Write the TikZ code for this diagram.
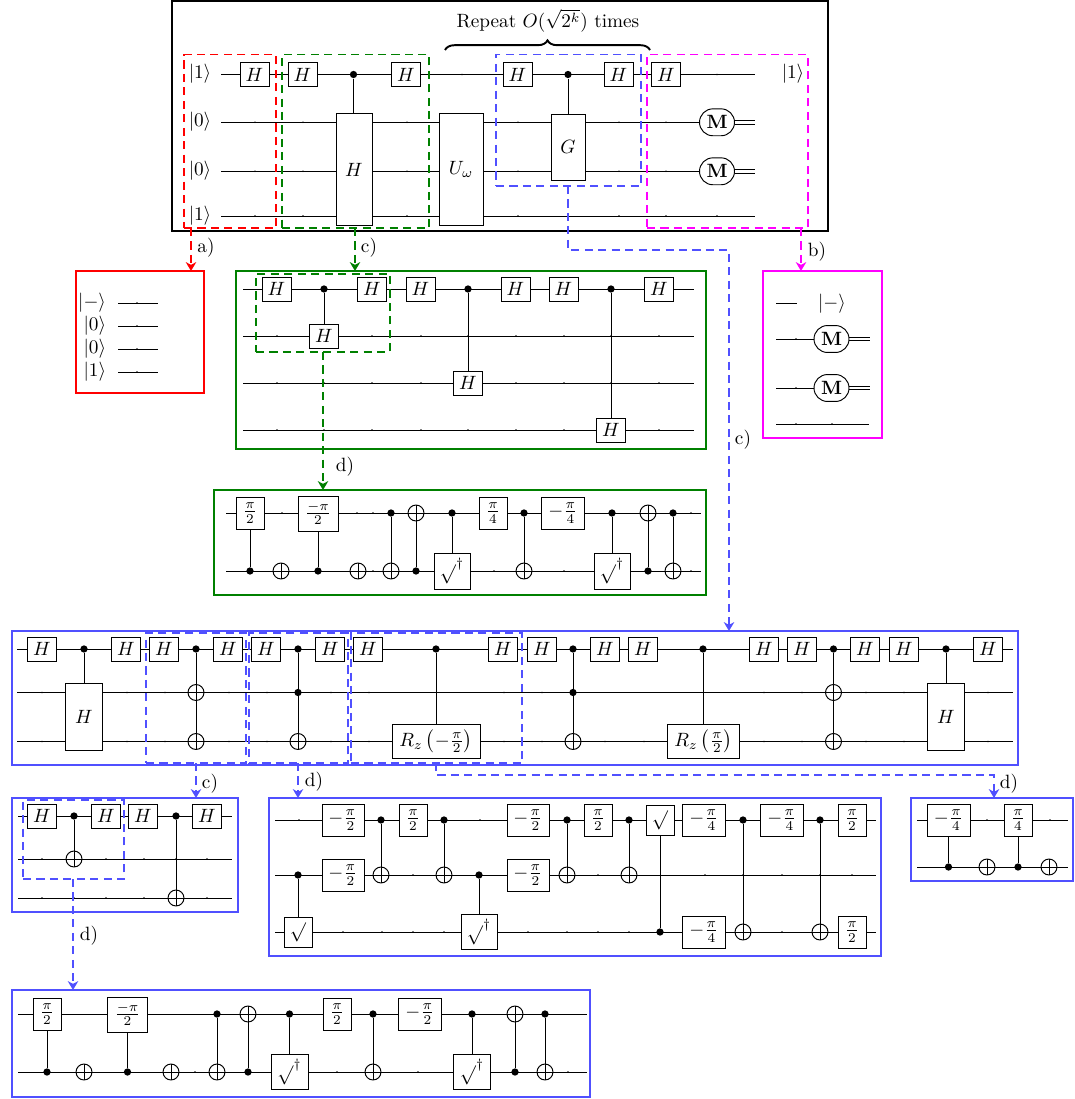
\documentclass[tikz,border=0pt]{standalone}
\usetikzlibrary{arrows.meta,decorations.pathreplacing}
\def\ux{0.52pt}
\definecolor{qblue}{RGB}{80,80,255}
\definecolor{qgreen}{RGB}{0,128,0}
\definecolor{qmag}{RGB}{255,0,255}
\tikzset{
  x=0.52pt,y=-0.52pt,
  wireline/.style={line width=0.5pt,black},
  vline/.style={line width=0.5pt,black},
  gatebox/.style={draw,fill=white,line width=0.5pt,inner sep=0pt,outer sep=0pt,rectangle},
  ctrlpt/.style={circle,fill=black,draw=none,inner sep=0pt,minimum size=3.8pt},
  xorpt/.style={circle,draw,line width=0.5pt,inner sep=0pt,minimum size=8.3pt,
    path picture={\draw[line width=0.5pt] (path picture bounding box.north)--(path picture bounding box.south);
                  \draw[line width=0.5pt] (path picture bounding box.west)--(path picture bounding box.east);}},
  measbox/.style={draw,fill=white,line width=0.5pt,rounded corners=7pt,inner sep=0pt,minimum width=18.2pt,minimum height=14pt},
  framebox/.style={draw,inner sep=0pt,outer sep=0pt,line width=1.05pt},
  dashbox/.style={draw,inner sep=0pt,outer sep=0pt,line width=1pt,dash pattern=on 4.2pt off 2.8pt},
  dasharrow/.style={line width=1pt,dash pattern=on 4.2pt off 2.8pt,-{Stealth[length=4.6pt,width=5.4pt,inset=1.4pt]}},
  lab/.style={inner sep=0pt,outer sep=0pt}
}
\newcommand{\wire}[4]{\coordinate (#1a) at (#2,#4); \coordinate (#1b) at (#3,#4); \draw[wireline] (#1a)--(#1b);}
\newcommand{\ticks}[2]{\foreach \t in {#2} \fill (\t,#1) circle[radius=0.85];}
\newcommand{\gbox}[6]{\node[gatebox,minimum width=#4*\ux,minimum height=#5*\ux] (#1) at (#2,#3) {#6};}
\newcommand{\hgate}[3]{\gbox{#1}{#2}{#3}{29}{24}{$H$}}
\newcommand{\ctrl}[3]{\node[ctrlpt] (#1) at (#2,#3) {};}
\newcommand{\xorg}[3]{\node[xorpt] (#1) at (#2,#3) {};}
\newcommand{\vl}[2]{\draw[vline] (#1)--(#2);}
\newcommand{\rframe}[6]{\node[#6,minimum width={(#4-#2)*\ux},minimum height={(#5-#3)*\ux}] (#1) at ({(#2+#4)/2},{(#3+#5)/2}) {};}
\newcommand{\darrow}[4]{\coordinate (ax#2#3) at (#4,0); \draw[dasharrow,#1] (#2.south -| ax#2#3) -- (#3.north -| ax#2#3);}
\newcommand{\lbl}[4]{\node[lab] (#1) at (#2,#3) {#4};}
\newcommand{\meas}[3]{\node[measbox] (#1) at (#2,#3) {$\mathbf{M}$};
  \coordinate (#1e) at ({#2+38},#3);
  \draw[wireline] ([yshift=1pt]#1.east) -- ([yshift=1pt]#1e);
  \draw[wireline] ([yshift=-1pt]#1.east) -- ([yshift=-1pt]#1e);}
\newcommand{\fr}[2]{$\frac{#1}{#2}$}
\newcommand{\mfr}[2]{$-\frac{#1}{#2}$}
\newcommand{\sq}{$\sqrt{}$}
\newcommand{\sqd}{${\sqrt{}}^{\dagger}$}
\begin{document}
\begin{tikzpicture}
\useasboundingbox (0,0) rectangle (1074,1099);
% ---------- main circuit
\wire{mw0}{221}{755}{74.5}
\wire{mw1}{221}{699}{122.3}
\wire{mw2}{221}{699}{171.3}
\wire{mw3}{221}{755}{216}
\ticks{74.5}{462,717}
\ticks{122.3}{255,303,407,518,619,666}
\ticks{171.3}{255,303,407,518,619,666}
\ticks{216}{255,303,407,518,619,666,717}
\lbl{k0}{200}{74}{$|1\rangle$}
\lbl{k1}{200}{122}{$|0\rangle$}
\lbl{k2}{200}{171}{$|0\rangle$}
\lbl{k3}{200}{216}{$|1\rangle$}
\lbl{k4}{793}{74}{$|1\rangle$}
\hgate{m1}{254.5}{74.5}
\hgate{m2}{302.5}{74.5}
\ctrl{mc1}{353.5}{74.5}
\gbox{mH}{354}{169.5}{36}{112}{$H$}
\draw[vline] (mc1)--(mH.north -| mc1);
\hgate{m3}{406}{74.5}
\gbox{mU}{461}{169.5}{44}{112}{$U_\omega$}
\hgate{m4}{517.5}{74.5}
\ctrl{mc2}{568}{74.5}
\gbox{mG}{568}{147}{34}{66}{$G$}
\vl{mc2}{mG}
\hgate{m5}{618.5}{74.5}
\hgate{m6}{666}{74.5}
\meas{mm1}{717}{122.3}
\meas{mm2}{717}{171.3}
\lbl{rep}{548}{21}{Repeat $O(\sqrt{2^k})$ times}
\coordinate (brL) at (445,50);
\coordinate (brR) at (650,50);
\draw[line width=1pt,decorate,decoration={brace,amplitude=5pt}] (brL)--(brR);
% ---------- red panel
\wire{rw0}{118}{158}{303}
\wire{rw1}{118}{158}{326}
\wire{rw2}{118}{158}{349}
\wire{rw3}{118}{158}{372}
\ticks{303}{137}\ticks{326}{137}\ticks{349}{137}\ticks{372}{137}
\node[lab,anchor=east] (r0) at (106,303) {$|{-}\rangle$};
\node[lab,anchor=east] (r1) at (106,326) {$|0\rangle$};
\node[lab,anchor=east] (r2) at (106,349) {$|0\rangle$};
\node[lab,anchor=east] (r3) at (106,372) {$|1\rangle$};
% ---------- magenta panel
\wire{pw0}{776}{797}{303}
\wire{pw1}{776}{814}{339}
\wire{pw2}{776}{814}{388}
\wire{pw3}{776}{869}{424}
\ticks{339}{796}\ticks{388}{796}\ticks{424}{796,832}
\lbl{p0}{832}{304}{$|{-}\rangle$}
\meas{pm1}{831.5}{339}
\meas{pm2}{831.5}{388}
% ---------- green panel 1
\wire{gw0}{243}{694}{289}
\wire{gw1}{243}{694}{336}
\wire{gw2}{243}{694}{383}
\wire{gw3}{243}{694}{430}
\ticks{336}{277,372,421,468,516,564,611,659}
\ticks{383}{277,324,372,421,516,564,611,659}
\ticks{430}{277,324,372,421,468,516,564,659}
\hgate{g1}{276.5}{289}
\ctrl{gc1}{324}{289}
\hgate{g2}{324}{336}
\vl{gc1}{g2}
\hgate{g3}{372}{289}
\hgate{g4}{420.5}{289}
\ctrl{gc2}{468}{289}
\hgate{g5}{468}{383}
\vl{gc2}{g5}
\hgate{g6}{515.5}{289}
\hgate{g7}{563.5}{289}
\ctrl{gc3}{611}{289}
\hgate{g8}{611}{430}
\vl{gc3}{g8}
\hgate{g9}{659}{289}
% ---------- green panel 2
\wire{tw0}{226}{701}{513}
\wire{tw1}{226}{701}{571}
\ticks{513}{282,357,373,691}
\ticks{571}{373,494,564,691}
\gbox{t1}{250}{513}{28}{32}{\fr{\pi}{2}}
\ctrl{tc1}{250}{571}
\vl{t1}{tc1}
\xorg{tx1}{281}{571}
\gbox{t2}{318}{513.5}{40}{35}{\fr{-\pi}{2}}
\ctrl{tc2}{318}{571}
\vl{t2}{tc2}
\xorg{tx2}{358}{571}
\ctrl{tc3}{391}{513}
\xorg{tx3}{391}{571}
\vl{tc3}{tx3}
\xorg{tx4}{416}{513}
\ctrl{tc4}{416}{571}
\vl{tx4}{tc4}
\ctrl{tc5}{452}{513}
\gbox{t3}{452}{571}{36}{36}{\sqd}
\vl{tc5}{t3}
\gbox{t4}{493}{513}{28}{32}{\fr{\pi}{4}}
\ctrl{tc6}{524}{513}
\xorg{tx5}{524}{571}
\vl{tc6}{tx5}
\gbox{t5}{563}{513}{43}{32}{\mfr{\pi}{4}}
\ctrl{tc7}{612}{513}
\gbox{t6}{612}{571}{36}{36}{\sqd}
\vl{tc7}{t6}
\xorg{tx6}{648}{513}
\ctrl{tc8}{648}{571}
\vl{tx6}{tc8}
\ctrl{tc9}{673}{513}
\xorg{tx7}{673}{571}
\vl{tc9}{tx7}
% ---------- big blue panel
\wire{bw0}{17}{1013}{649}
\wire{bw1}{17}{1013}{692.5}
\wire{bw2}{17}{1013}{741.5}
\ticks{692.5}{42,127,165,229,267,331,369,504,542,764,802,866,904,988}
\ticks{741.5}{42,127,165,229,267,331,369,504,542,605,644,764,802,866,904,988}
\hgate{b1}{42}{649}
\ctrl{bc1}{84}{649}
\gbox{bH1}{84}{717}{37}{67}{$H$}
\vl{bc1}{bH1}
\hgate{b2}{126}{649}
\hgate{b3}{164}{649}
\ctrl{bc2}{196}{649}
\xorg{bx1}{196}{692.5}
\xorg{bx2}{196}{741.5}
\vl{bc2}{bx2}
\hgate{b4}{228}{649}
\hgate{b5}{266}{649}
\ctrl{bc3}{298}{649}
\ctrl{bc4}{298}{692.5}
\xorg{bx3}{298}{741.5}
\vl{bc3}{bx3}
\hgate{b6}{330}{649}
\hgate{b7}{368}{649}
\ctrl{bc5}{436}{649}
\gbox{bR1}{436}{741.5}{88}{34}{$R_z\left(-\frac{\pi}{2}\right)$}
\vl{bc5}{bR1}
\hgate{b8}{503}{649}
\hgate{b9}{542}{649}
\ctrl{bc6}{573}{649}
\ctrl{bc7}{573}{692.5}
\xorg{bx4}{573}{741.5}
\vl{bc6}{bx4}
\hgate{b10}{605}{649}
\hgate{b11}{643}{649}
\ctrl{bc8}{703}{649}
\gbox{bR2}{703.5}{741.5}{72}{34}{$R_z\left(\frac{\pi}{2}\right)$}
\draw[vline] (bc8)--(bR2.north -| bc8);
\hgate{b12}{764}{649}
\hgate{b13}{802}{649}
\ctrl{bc9}{833.5}{649}
\xorg{bx5}{833.5}{692.5}
\xorg{bx6}{833.5}{741.5}
\vl{bc9}{bx6}
\hgate{b14}{865}{649}
\hgate{b15}{904}{649}
\ctrl{bc10}{946}{649}
\gbox{bH2}{946}{717}{37}{67}{$H$}
\vl{bc10}{bH2}
\hgate{b16}{988}{649}
% ---------- small left blue panel
\wire{lw0}{18}{232}{816}
\wire{lw1}{18}{232}{859}
\wire{lw2}{18}{232}{898}
\ticks{859}{42,106,144,176,207}
\ticks{898}{42,74,106,144,207}
\hgate{l1}{42}{816}
\ctrl{lc1}{74}{816}
\xorg{lx1}{74}{859}
\vl{lc1}{lx1}
\hgate{l2}{106}{816}
\hgate{l3}{143}{816}
\ctrl{lc2}{176}{816}
\xorg{lx2}{176}{898}
\vl{lc2}{lx2}
\hgate{l4}{207}{816}
% ---------- middle blue panel
\wire{cw0}{275}{876}{820}
\wire{cw1}{275}{876}{875}
\wire{cw2}{275}{876}{932}
\ticks{820}{299,480}
\ticks{875}{413,598,705,743,782,820,852}
\ticks{932}{343,382,413,444,528,567,598,629,782}
\gbox{c1}{343}{820}{42}{32}{\mfr{\pi}{2}}
\ctrl{cc1}{381}{820}
\xorg{cx1}{381}{875}
\vl{cc1}{cx1}
\gbox{c2}{413}{820}{28}{32}{\fr{\pi}{2}}
\ctrl{cc2}{444}{820}
\xorg{cx2}{444}{875}
\vl{cc2}{cx2}
\gbox{c3}{343}{875}{42}{32}{\mfr{\pi}{2}}
\ctrl{cc3}{298}{875}
\gbox{c4}{298}{932}{28}{30}{\sq}
\vl{cc3}{c4}
\ctrl{cc4}{479}{875}
\gbox{c5}{479}{932}{36}{35}{\sqd}
\vl{cc4}{c5}
\gbox{c6}{528}{820}{42}{32}{\mfr{\pi}{2}}
\gbox{c7}{528}{875}{42}{32}{\mfr{\pi}{2}}
\ctrl{cc5}{567}{820}
\xorg{cx3}{567}{875}
\vl{cc5}{cx3}
\gbox{c8}{598}{820}{28}{32}{\fr{\pi}{2}}
\ctrl{cc6}{629}{820}
\xorg{cx4}{629}{875}
\vl{cc6}{cx4}
\gbox{c9}{660}{820}{28}{30}{\sq}
\ctrl{cc7}{660}{932}
\vl{c9}{cc7}
\gbox{c10}{704}{820}{43}{32}{\mfr{\pi}{4}}
\gbox{c11}{704}{932}{43}{32}{\mfr{\pi}{4}}
\ctrl{cc8}{743}{820}
\xorg{cx5}{743}{932}
\vl{cc8}{cx5}
\gbox{c12}{782}{820}{43}{32}{\mfr{\pi}{4}}
\ctrl{cc9}{820}{820}
\xorg{cx6}{820}{932}
\vl{cc9}{cx6}
\gbox{c13}{852}{820}{28}{32}{\fr{\pi}{2}}
\gbox{c14}{852}{932}{28}{32}{\fr{\pi}{2}}
% ---------- small right blue panel
\wire{dw0}{917}{1068}{820}
\wire{dw1}{917}{1068}{867}
\ticks{820}{987,1050}
\gbox{d1}{948.5}{820}{43}{32}{\mfr{\pi}{4}}
\ctrl{dc1}{948.5}{867}
\vl{d1}{dc1}
\xorg{dx1}{987}{867}
\gbox{d2}{1018}{820}{28}{32}{\fr{\pi}{4}}
\ctrl{dc2}{1018}{867}
\vl{d2}{dc2}
\xorg{dx2}{1049}{867}
% ---------- bottom blue panel
\wire{ew0}{18}{587}{1014}
\wire{ew1}{18}{587}{1072}
\ticks{1072}{195,337,418,568}
\gbox{e1}{47}{1014}{28}{32}{\fr{\pi}{2}}
\ctrl{ec1}{47}{1072}
\vl{e1}{ec1}
\xorg{ex1}{84}{1072}
\gbox{e2}{127.5}{1014.5}{40}{35}{\fr{-\pi}{2}}
\ctrl{ec2}{127.5}{1072}
\vl{e2}{ec2}
\xorg{ex2}{171}{1072}
\ctrl{ec3}{217}{1014}
\xorg{ex3}{217}{1072}
\vl{ec3}{ex3}
\xorg{ex4}{248}{1014}
\ctrl{ec4}{248}{1072}
\vl{ex4}{ec4}
\ctrl{ec5}{289.5}{1014}
\gbox{e3}{289.5}{1072}{37}{35}{\sqd}
\vl{ec5}{e3}
\gbox{e4}{337}{1014}{28}{32}{\fr{\pi}{2}}
\ctrl{ec6}{373}{1014}
\xorg{ex5}{373}{1072}
\vl{ec6}{ex5}
\gbox{e5}{420}{1014}{43}{32}{\mfr{\pi}{2}}
\ctrl{ec7}{472}{1014}
\gbox{e6}{472}{1072}{37}{35}{\sqd}
\vl{ec7}{e6}
\xorg{ex6}{515}{1014}
\ctrl{ec8}{515}{1072}
\vl{ex6}{ec8}
\ctrl{ec9}{545}{1014}
\xorg{ex7}{545}{1072}
\vl{ec9}{ex7}
% ---------- frames
\rframe{fmain}{172}{1}{828}{231}{framebox,line width=1.4pt}
\rframe{fred}{76}{271}{204}{393}{framebox,red}
\rframe{fg1}{236}{271}{706}{449}{framebox,qgreen}
\rframe{fmag}{763}{271}{882}{438}{framebox,qmag}
\rframe{fg2}{214}{490}{706}{595}{framebox,qgreen}
\rframe{fb1}{12}{631}{1018}{765}{framebox,qblue}
\rframe{fb2}{12}{798}{238}{912}{framebox,qblue}
\rframe{fb3}{269}{798}{881}{956}{framebox,qblue}
\rframe{fb4}{911}{798}{1073}{881}{framebox,qblue}
\rframe{fb5}{12}{990}{590}{1097}{framebox,qblue}
% ---------- dashed regions
\rframe{dr}{184}{54.5}{276}{228}{dashbox,red}
\rframe{dg}{282}{54.5}{429}{228}{dashbox,qgreen}
\rframe{db}{496}{54.5}{641}{186}{dashbox,qblue}
\rframe{dm}{647}{54.5}{808}{228}{dashbox,qmag}
\rframe{dg2}{256}{274}{390}{352}{dashbox,qgreen}
\rframe{db1}{146}{633}{246}{763}{dashbox,qblue}
\rframe{db2}{249}{633}{348}{763}{dashbox,qblue}
\rframe{db3}{351}{633}{522}{763}{dashbox,qblue}
\rframe{db4}{23}{800}{124}{879}{dashbox,qblue}
% ---------- arrows
\darrow{red}{dr}{fred}{191}
\darrow{qgreen}{dg}{fg1}{355}
\darrow{qmag}{dm}{fmag}{801}
\darrow{qgreen}{dg2}{fg2}{323}
\coordinate (ba1) at (568,250);
\coordinate (ba2) at (729,250);
\draw[dasharrow,qblue] (db.south -| ba1) -- (ba1) -- (ba2) -- (fb1.north -| ba2);
\darrow{qblue}{db1}{fb2}{196}
\darrow{qblue}{db2}{fb3}{298}
\coordinate (bb1) at (436,775);
\coordinate (bb2) at (994,775);
\draw[dasharrow,qblue] (db3.south -| bb1) -- (bb1) -- (bb2) -- (fb4.north -| bb2);
\darrow{qblue}{db4}{fb5}{73}
% ---------- arrow labels
\lbl{la}{206}{248}{a)}
\lbl{lb}{817}{252}{b)}
\lbl{lc}{369}{248}{c)}
\lbl{ld}{743}{440}{c)}
\lbl{le}{345}{467}{d)}
\lbl{lf}{210}{784}{c)}
\lbl{lg}{314}{782}{d)}
\lbl{lh}{1009}{784}{d)}
\lbl{li}{89}{936}{d)}
\end{tikzpicture}
\end{document}
